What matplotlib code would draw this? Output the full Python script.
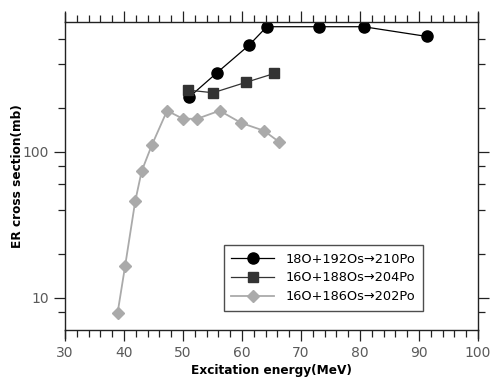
import numpy as np
import matplotlib
matplotlib.use("Agg")
import matplotlib.pyplot as plt
from matplotlib.ticker import FixedLocator, NullFormatter, MultipleLocator

# data
e_210po = [51.0, 55.8, 61.2, 64.2, 73.0, 80.6, 91.3]
s_210po = [237, 351, 541, 724, 724, 724, 621]

e_204po = [50.8, 55.1, 60.6, 65.5]
s_204po = [266, 255, 300, 346]

e_202po = [38.9, 40.2, 41.9, 43.0, 44.7, 47.3, 50.0, 52.4, 56.2, 59.9, 63.7, 66.2]
s_202po = [7.8, 16.6, 45.9, 74, 111, 192, 169, 169, 192, 158, 140, 118]

labels = ["18O+192Os\u2192210Po", "16O+188Os\u2192204Po", "16O+186Os\u2192202Po"]

plt.rcParams['font.family'] = ['DejaVu Sans']

fig = plt.figure(figsize=(4.9, 3.78), dpi=100)
ax = fig.add_axes([65/490, 48/378, 413/490, 308/378])

ax.plot(e_210po, s_210po, '-o', color='black', lw=0.9, ms=8, label=labels[0])
ax.plot(e_204po, s_204po, '-s', color='#333333', mec='#333333', lw=0.9, ms=7.5, label=labels[1])
ax.plot(e_202po, s_202po, '-D', color='#aaaaaa', mec='#aaaaaa', lw=1.3, ms=6.5, label=labels[2])

ax.set_yscale('log')
ax.set_xlim(30, 100)
ax.set_ylim(6, 780)

ax.xaxis.set_major_locator(MultipleLocator(10))
ax.xaxis.set_minor_locator(MultipleLocator(2))
ax.yaxis.set_major_locator(FixedLocator([10, 100]))
ax.yaxis.set_minor_locator(FixedLocator([8, 20, 40, 60, 80, 200, 400, 600]))
ax.yaxis.set_minor_formatter(NullFormatter())
ax.set_yticklabels(['10', '100'])

ax.tick_params(which='both', direction='out', top=True, right=True,
               labelcolor='#5a5a5a', labelsize=10, color='#222222', width=0.9)
ax.tick_params(which='major', length=8)
ax.tick_params(which='minor', length=5)

for sp in ax.spines.values():
    sp.set_linewidth(1.0)
    sp.set_color('#222222')

# left/right axis lines reach a bit past the frame
ext_top = 9 / 308
ext_bot = 8 / 308
for xa in (0, 1):
    ax.plot([xa, xa], [1, 1 + ext_top], transform=ax.transAxes, color='#222222',
            lw=1.0, clip_on=False)
    ax.plot([xa, xa], [0, -ext_bot], transform=ax.transAxes, color='#222222',
            lw=1.0, clip_on=False)

ax.set_xlabel("Excitation energy(MeV)", fontweight='bold', fontsize=8.7, labelpad=3)
ax.set_ylabel("ER cross section(mb)", fontweight='bold', fontsize=8.7, labelpad=-1)

leg = ax.legend(loc='lower right', bbox_to_anchor=(0.867, 0.062), fontsize=9.3,
                frameon=True, fancybox=False, edgecolor='#222222',
                handlelength=3.3, handletextpad=0.9, borderpad=0.6,
                labelspacing=0.45, borderaxespad=0)
leg.get_frame().set_linewidth(1.0)

fig.savefig("out.png", dpi=100)
